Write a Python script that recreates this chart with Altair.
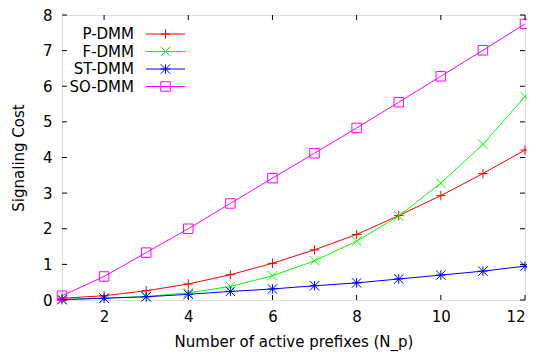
import altair as alt
import pandas as pd

x_vals = list(range(1, 13))
series_names = ["P-DMM", "F-DMM", "ST-DMM", "SO-DMM"]
p_dmm = [0.05, 0.12, 0.26, 0.45, 0.71, 1.03, 1.41, 1.84, 2.37, 2.93, 3.55, 4.21]
f_dmm = [0.02, 0.05, 0.10, 0.20, 0.38, 0.68, 1.10, 1.65, 2.36, 3.28, 4.37, 5.71]
st_dmm = [0.01, 0.05, 0.09, 0.16, 0.24, 0.31, 0.40, 0.48, 0.59, 0.70, 0.81, 0.95]
so_dmm = [0.12, 0.66, 1.33, 2.00, 2.71, 3.42, 4.12, 4.83, 5.55, 6.28, 7.01, 7.75]
colors = ["#ff0000", "#00ff00", "#0000ff", "#ff00ff"]
shapes = [
    "M-1,0L1,0M0,-1L0,1",
    "M-1,-1L1,1M-1,1L1,-1",
    "M-1,0L1,0M0,-1L0,1M-1,-1L1,1M-1,1L1,-1",
    "M-1,-1L1,-1L1,1L-1,1Z",
]
x_ticks = [2, 4, 6, 8, 10, 12]
y_ticks = [0, 1, 2, 3, 4, 5, 6, 7, 8]

W, H = 463, 285
FONT = "DejaVu Sans"
FS = 15

rows = []
for name, vals in zip(series_names, [p_dmm, f_dmm, st_dmm, so_dmm]):
    for xv, yv in zip(x_vals, vals):
        rows.append({"series": name, "n": xv, "cost": yv})
df = pd.DataFrame(rows)

xscale = alt.Scale(domain=[1, 12], nice=False, zero=False)
yscale = alt.Scale(domain=[0, 8], nice=False)
cscale = alt.Scale(domain=series_names, range=colors)
sscale = alt.Scale(domain=series_names, range=shapes)

xaxis = alt.Axis(values=x_ticks, title="Number of active prefixes (N_p)",
                 ticks=False, labelPadding=9, grid=False, domain=False,
                 labelOverlap=False, labelFont=FONT, labelFontSize=FS, titleFont=FONT,
                 titleFontSize=FS, titleFontWeight="normal", labelColor="black",
                 titleColor="black", titleBaseline="alphabetic", titleY=46)
yaxis = alt.Axis(values=y_ticks, title="Signaling Cost", ticks=False,
                 labelPadding=10, grid=False, domain=False,
                 labelOverlap=False, labelFont=FONT, labelFontSize=FS, titleFont=FONT,
                 titleFontSize=FS, titleFontWeight="normal", labelColor="black",
                 titleColor="black", titlePadding=16)

base = alt.Chart(df)
lines = base.mark_line(strokeWidth=1).encode(
    x=alt.X("n:Q", scale=xscale, axis=xaxis),
    y=alt.Y("cost:Q", scale=yscale, axis=yaxis),
    color=alt.Color("series:N", scale=cscale, legend=None),
    detail="series:N",
)
points = base.mark_point(filled=False, strokeWidth=1, size=90, opacity=1).encode(
    x=alt.X("n:Q", scale=xscale, axis=xaxis),
    y=alt.Y("cost:Q", scale=yscale, axis=yaxis),
    color=alt.Color("series:N", scale=cscale, legend=None),
    shape=alt.Shape("series:N", scale=sscale, legend=None),
)

# inward tick marks (gnuplot style, mirrored)
xt = pd.DataFrame({"v": x_ticks})
yt = pd.DataFrame({"v": y_ticks})
tick_len = 5
xt_bottom = alt.Chart(xt).mark_rule(color="black", strokeWidth=1).encode(
    x=alt.X("v:Q", scale=xscale, axis=xaxis), y=alt.value(H), y2=alt.value(H - tick_len))
xt_top = alt.Chart(xt).mark_rule(color="black", strokeWidth=1).encode(
    x=alt.X("v:Q", scale=xscale, axis=xaxis), y=alt.value(0), y2=alt.value(tick_len))
yt_left = alt.Chart(yt).mark_rule(color="black", strokeWidth=1).encode(
    y=alt.Y("v:Q", scale=yscale, axis=yaxis), x=alt.value(0), x2=alt.value(tick_len))
yt_right = alt.Chart(yt).mark_rule(color="black", strokeWidth=1).encode(
    y=alt.Y("v:Q", scale=yscale, axis=yaxis), x=alt.value(W), x2=alt.value(W - tick_len))

# legend (top-left, labels left of samples)
leg_layers = []
row_y = [19, 36.5, 54, 71.5]
ldf = pd.DataFrame({"series": series_names})
for i, name in enumerate(series_names):
    d = alt.Chart(ldf).transform_filter(alt.datum.series == name)
    leg_layers.append(d.mark_text(align="right", baseline="middle", font=FONT,
                                  fontSize=FS, color="black").encode(
        x=alt.value(72), y=alt.value(row_y[i]), text="series:N"))
    leg_layers.append(d.mark_rule(strokeWidth=1).encode(
        x=alt.value(84), x2=alt.value(123), y=alt.value(row_y[i]),
        color=alt.Color("series:N", scale=cscale, legend=None)))
    leg_layers.append(d.mark_point(filled=False, strokeWidth=1, size=90, opacity=1).encode(
        x=alt.value(103.5), y=alt.value(row_y[i]),
        color=alt.Color("series:N", scale=cscale, legend=None),
        shape=alt.Shape("series:N", scale=sscale, legend=None)))

chart = alt.layer(lines, points, xt_bottom, xt_top, yt_left, yt_right, *leg_layers).properties(
    width=W, height=H,
    autosize=alt.AutoSizeParams(type="none"),
    padding={"left": 54, "top": 7, "right": 2, "bottom": 52},
).configure_view(stroke="black", strokeWidth=1).configure(background="white")

chart.save("out.html", embed_options={"renderer": "svg", "actions": False})
